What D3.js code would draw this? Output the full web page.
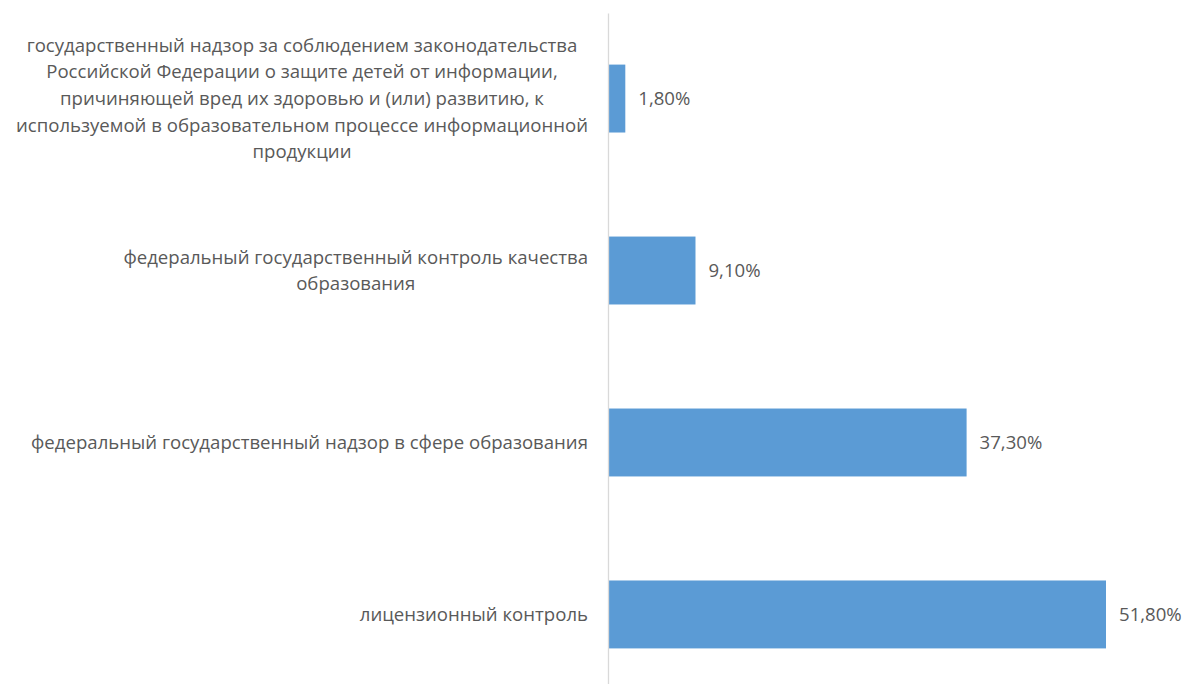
<!DOCTYPE html>
<html>
<head>
<meta charset="utf-8">
<script src="https://cdn.jsdelivr.net/npm/d3@7"></script>
<style>
  body { margin: 0; background: #fff; }
  text { font-family: "Open Sans", sans-serif; fill: #595959; }
</style>
</head>
<body>
<script>
const w = 1187;
const h = 684;

// categories (each label split into lines, as in the picture)
const categories = [
	"надзор о защите детей",
	"контроль качества",
	"надзор в сфере образования",
	"лицензионный контроль"
];
const labelLines = [
	[
		"государственный надзор за соблюдением законодательства",
		"Российской Федерации о защите детей от информации,",
		"причиняющей вред их здоровью и (или) развитию, к",
		"используемой в образовательном процессе информационной",
		"продукции"
	],
	["федеральный государственный контроль качества", "образования"],
	["федеральный государственный надзор в сфере образования"],
	["лицензионный контроль"]
];
const values = [1.8, 9.1, 37.3, 51.8];
const valueLabels = ["1,80%", "9,10%", "37,30%", "51,80%"];

const fontSize = 18.6;
const lineHeight = 26.7;
const axisX = 608;

const svg = d3
	.select("body")
	.append("svg")
	.attr("width", w)
	.attr("height", h);

const xScale = d3.scaleLinear().domain([0, 51.8]).range([axisX, 1106]);

const yScale = d3
	.scaleBand()
	.domain(categories)
	.range([13, 700])
	.paddingInner(0.605)
	.paddingOuter(0.3);

// Add bars
svg
	.selectAll("rect.bar")
	.data(values)
	.enter()
	.append("rect")
	.attr("class", "bar")
	.attr("x", xScale(0))
	.attr("y", (_, i) => yScale(categories[i]))
	.attr("width", (d) => xScale(d) - xScale(0))
	.attr("height", yScale.bandwidth())
	.attr("fill", "#5b9bd5");

// axis line
const yAxis = d3.axisLeft(yScale).tickSize(0).tickFormat("");
const axisG = svg
	.append("g")
	.attr("transform", `translate(${axisX}, 0)`)
	.call(yAxis);
axisG.select(".domain").attr("stroke", "#d9d9d9").attr("stroke-width", 1.3);

// value labels
svg
	.selectAll("text.value")
	.data(values)
	.enter()
	.append("text")
	.attr("class", "value")
	.attr("x", (d) => xScale(d) + 13)
	.attr("y", (_, i) => yScale(categories[i]) + yScale.bandwidth() / 2)
	.attr("dy", "0.35em")
	.style("font-size", fontSize + "px")
	.text((_, i) => valueLabels[i]);

// category labels: block right-aligned to the axis, lines centred inside it
labelLines.forEach((lines, i) => {
	const g = svg.append("g");
	const cy = yScale(categories[i]) + yScale.bandwidth() / 2;
	const t = g
		.selectAll("text")
		.data(lines)
		.enter()
		.append("text")
		.attr("text-anchor", "middle")
		.attr("y", (_, j) => cy + (j - (lines.length - 1) / 2) * lineHeight)
		.attr("dy", "0.35em")
		.style("font-size", fontSize + "px")
		.text((d) => d);
	let maxW = 0;
	t.each(function () {
		maxW = Math.max(maxW, this.getComputedTextLength());
	});
	t.attr("x", axisX - 20 - maxW / 2);
});
</script>
</body>
</html>
